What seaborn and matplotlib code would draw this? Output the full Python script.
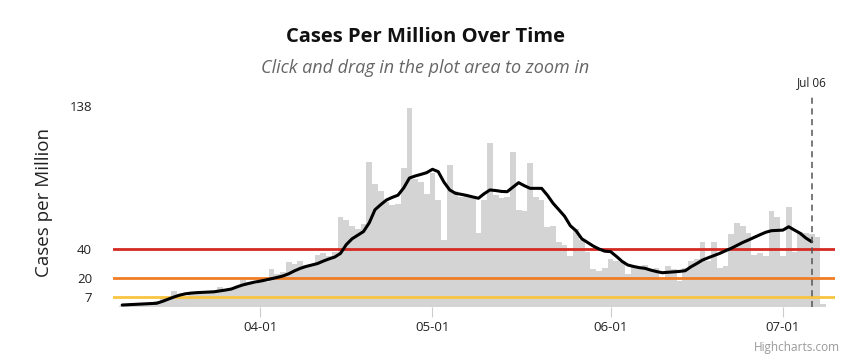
import pandas as pd
import seaborn as sns
import matplotlib.pyplot as plt
import matplotlib.dates as mdates
import matplotlib.transforms as mtransforms

# daily cases per million, starting 2020-03-08
daily_cases = [
    1, 1, 2, 2, 3, 3, 4, 6, 5,
    11, 8, 7, 9, 10, 9, 11, 10,
    14, 11, 12, 13, 19, 17, 16, 18, 17,
    26, 23, 24, 31, 30, 32, 29, 30,
    36, 37, 35, 38, 62, 60, 56, 54, 57,
    100, 85, 80, 72, 70, 71, 96, 137, 88, 86, 78, 92, 74, 46,
    98, 80, 76, 77, 75, 51, 74, 113, 77, 75, 76, 107, 67, 66,
    99, 76, 74, 55, 56, 45, 43, 35, 54, 46, 38,
    26, 25, 27, 33, 32, 31, 23, 28, 27, 29, 26,
    27, 19, 28, 26, 18, 27, 32, 33, 45, 32, 45, 27, 28,
    50, 58, 56, 51, 36, 37, 35, 66, 62, 35, 69, 38, 52, 51,
    50, 48, 2,
]

# 7-day rolling average (2020-03-08 .. 2020-07-06)
rolling_avg = [
    1.5, 1.7, 1.9, 2.1, 2.3, 2.5, 2.7, 4.0, 5.5, 7.0,
    8.3, 9.2, 9.7, 10.0, 10.2, 10.4, 10.6, 11.2, 11.8, 12.5,
    14.0, 15.3, 16.3, 17.2, 17.9, 18.7, 19.6, 20.5, 21.5, 23.0,
    25.0, 26.7, 28.0, 29.0, 30.0, 31.7, 33.2, 34.5, 37.0, 43.0,
    47.0, 49.5, 52.0, 58.0, 67.0, 70.5, 73.7, 75.5, 77.0, 82.0,
    88.8, 90.2, 91.3, 92.5, 94.8, 93.2, 86.0, 80.6, 78.3, 77.6,
    76.8, 75.8, 74.9, 78.0, 80.6, 80.2, 79.6, 79.4, 82.5, 85.6,
    83.5, 81.7, 81.7, 81.7, 77.0, 71.4, 67.0, 62.5, 56.0, 52.5,
    47.0, 44.5, 42.0, 40.0, 38.5, 38.2, 35.0, 31.5, 29.0, 28.0,
    27.2, 26.7, 25.5, 24.5, 23.7, 24.0, 24.3, 24.6, 25.1, 27.8,
    30.0, 32.4, 34.0, 35.5, 37.0, 38.8, 40.5, 42.5, 44.5, 46.2,
    48.0, 49.8, 51.5, 52.6, 52.8, 53.0, 55.3, 53.0, 50.8, 47.5,
    45.0,
]

thresholds = [40, 20, 7]
threshold_colors = ['#d42a22', '#f07d26', '#f9c440']
ytick_values = [7, 20, 40, 138]
xtick_dates = ['2020-04-01', '2020-05-01', '2020-06-01', '2020-07-01']
marker_date = '2020-07-06'
marker_label = 'Jul 06'

bar_dates = pd.date_range('2020-03-08', periods=len(daily_cases), freq='D')
line_dates = pd.date_range('2020-03-08', periods=len(rolling_avg), freq='D')
bars = pd.DataFrame({'date': bar_dates, 'cases': daily_cases})
line = pd.DataFrame({'date': line_dates, 'avg': rolling_avg})

sns.set_theme(style='white')
plt.rcParams['font.family'] = ['Open Sans', 'DejaVu Sans']

fig = plt.figure(figsize=(8.5, 3.54), dpi=100)
ax = fig.add_axes([0.1329, 0.1322, 0.8494, 0.5938])

ax.bar(bars['date'], bars['cases'], width=1.0, color='#d4d4d4', linewidth=0, zorder=1)

for val, col in zip(thresholds, threshold_colors):
    ax.axhline(val, color=col, linewidth=2.0, zorder=2)

sns.lineplot(data=line, x='date', y='avg', color='black', linewidth=2.2, ax=ax, zorder=3)

mdate = pd.Timestamp(marker_date)
ax.axvline(mdate, color='#555555', linestyle=(0, (4, 3)), linewidth=1.1, zorder=4)
trans = mtransforms.blended_transform_factory(ax.transData, ax.transAxes)
ax.text(mdate, 1.067, marker_label, transform=trans, ha='center', va='center',
        fontsize=8.5, color='#222222')

ax.set_xlim(pd.Timestamp('2020-04-01') - pd.Timedelta(days=25.6),
            pd.Timestamp('2020-07-01') + pd.Timedelta(days=9.05))
ax.set_ylim(0, 144.5)

ax.set_xticks(pd.to_datetime(xtick_dates))
ax.xaxis.set_major_formatter(mdates.DateFormatter('%m-%d'))
ax.set_yticks(ytick_values)
ax.tick_params(axis='x', length=7, width=0.8, color='#cccccc', labelsize=9.5,
               labelcolor='#222222', pad=3, bottom=True)
ax.tick_params(axis='y', length=0, labelsize=9.5, labelcolor='#222222', pad=15)

ax.set_xlabel('')
ax.set_ylabel('Cases per Million', fontsize=13.5, color='#222222', labelpad=12)
for s in ax.spines.values():
    s.set_visible(False)
ax.grid(False)

fig.text(0.5, 1 - 37 / 354, 'Cases Per Million Over Time', ha='center', va='center',
         fontsize=14.5, fontweight='bold', color='#111111')
fig.text(0.5, 1 - 68 / 354, 'Click and drag in the plot area to zoom in', ha='center',
         va='center', fontsize=13, style='italic', color='#666666')
fig.text(0.988, 1 - 347 / 354, 'Highcharts.com', ha='right', va='center',
         fontsize=8.5, color='#999999')

fig.savefig('out.png', dpi=100)
